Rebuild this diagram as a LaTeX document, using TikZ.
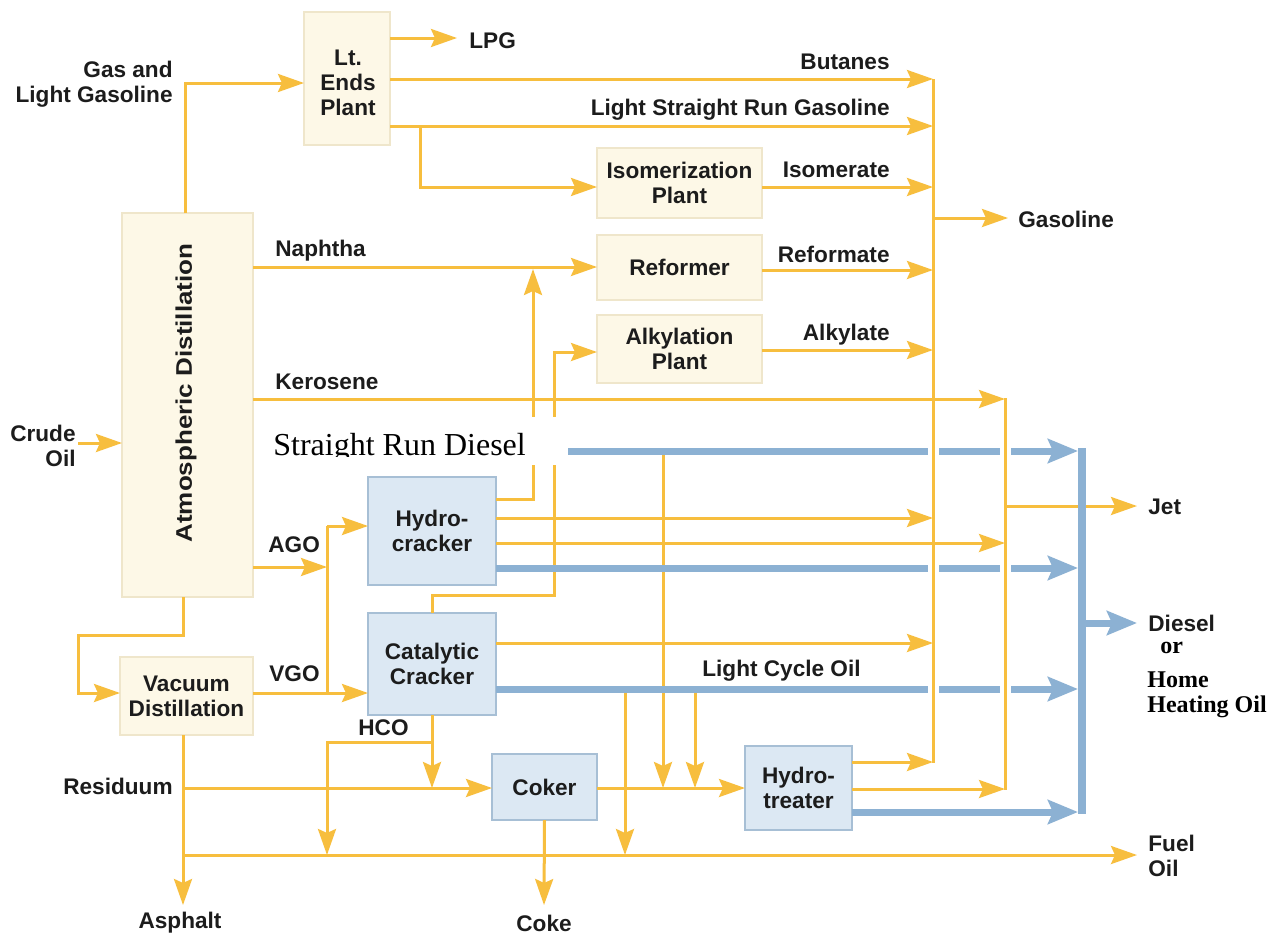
\documentclass[tikz,border=0pt]{standalone}
\usepackage{fontspec}
\setmainfont{Liberation Serif}
\setsansfont{Liberation Sans}
\usetikzlibrary{arrows.meta}
\definecolor{orng}{HTML}{F7BE3E}
\definecolor{blu}{HTML}{8CB1D3}
\definecolor{creamf}{HTML}{FDF8E7}
\definecolor{creamd}{HTML}{EFE6CB}
\definecolor{bluef}{HTML}{DCE8F3}
\definecolor{blued}{HTML}{A7BFD5}
\definecolor{txt}{HTML}{1C1C1C}
\newcommand{\lbfnt}{\sffamily\bfseries\fontsize{11.3}{12.4}\selectfont}
\tikzset{
  oline/.style={draw=orng, line width=1.5pt},
  oarr/.style={oline, -{Stealth[length=13pt,width=9pt,inset=2pt]}},
  bline/.style={draw=blu, line width=3.5pt},
  barr/.style={bline, -{Stealth[length=15pt,width=12pt,inset=2.5pt]}},
  cbox/.style={fill=creamf, draw=creamd, line width=0.6pt, inner sep=0pt, outer sep=0pt, align=center, font=\lbfnt, text=txt},
  bbox/.style={fill=bluef, draw=blued, line width=0.8pt, inner sep=0pt, outer sep=0pt, align=center, font=\lbfnt, text=txt},
  lbl/.style={font=\lbfnt, text=txt, inner sep=0pt},
  tlbl/.style={font=\rmfamily\bfseries\fontsize{12}{14}\selectfont, text=black, inner sep=0pt},
}
\begin{document}
\begin{tikzpicture}[x=0.5pt,y=-0.5pt]
\useasboundingbox[fill=white] (0,0) rectangle (1280,938);

% ---------- boxes ----------
\node[cbox, minimum width=43pt, minimum height=66.5pt] (ltends) at (347,78.5) {};
\node[lbl, align=center] (ltendslbl) at (348,83) {Lt.\\Ends\\Plant};
\node[cbox, minimum width=65.5pt, minimum height=192pt] (atmos) at (187.5,405) {};
\node[lbl, rotate=90] (atmoslbl) at (186,393) {\scalebox{1.15}[1]{Atmospheric Distillation}};
\node[cbox, minimum width=82.5pt, minimum height=35pt] (isom) at (679.5,183) {Isomerization\\Plant};
\node[cbox, minimum width=82.5pt, minimum height=32.5pt] (reformer) at (679.5,267.5) {Reformer};
\node[cbox, minimum width=82.5pt, minimum height=34pt] (alky) at (679.5,349) {Alkylation\\Plant};
\node[cbox, minimum width=66.5pt, minimum height=39pt] (vacuum) at (186.5,696) {Vacuum\\Distillation};
\node[bbox, minimum width=64pt, minimum height=54pt] (hydrocr) at (432,531) {Hydro-\\cracker};
\node[bbox, minimum width=64pt, minimum height=51pt] (catcr) at (432,664) {Catalytic\\Cracker};
\node[bbox, minimum width=52.5pt, minimum height=33pt] (coker) at (544.5,787) {Coker};
\node[bbox, minimum width=53.5pt, minimum height=42pt] (hydrotr) at (798.5,788) {Hydro-\\treater};

% ---------- collector coordinates ----------
\coordinate (gcol) at (933,0);
\coordinate (jcol) at (1005,0);
\coordinate (dcol) at (1082,0);
\coordinate (dcolL) at (1078,0);
\coordinate (fv) at (327,526);
\coordinate (lsrgbr) at (420,126);
\coordinate (lpgend) at (457,38);
\coordinate (gasend) at (1008,218);
\coordinate (jetend) at (1137,506);
\coordinate (dieselend) at (1137,623);
\coordinate (fuelend) at (1137,855);
\coordinate (crudest) at (78,443);
\coordinate (asphend) at (183,905);
\coordinate (cokeend) at (544,905);

% ---------- orange streams ----------
\draw[oarr] (atmos.north -| 185,0) |- (ltends.west |- 0,83);
\draw[oarr] (ltends.east |- 0,38) -- (lpgend);
\draw[oarr] (ltends.east |- 0,79) -- (gcol |- 0,79);
\draw[oarr] (ltends.east |- 0,126) -- (gcol |- 0,126);
\draw[oarr] (lsrgbr) |- (isom.west |- 0,187);
\draw[oarr] (isom.east |- 0,187) -- (gcol |- 0,187);
\draw[oarr] (atmos.east |- 0,267) -- (reformer.west |- 0,267);
\draw[oarr] (reformer.east |- 0,270) -- (gcol |- 0,270);
\draw[oarr] (alky.east |- 0,350) -- (gcol |- 0,350);
\draw[oarr] (gcol |- 0,218) -- (gasend);
\draw[oarr] (atmos.east |- 0,399) -- (jcol |- 0,399);
\draw[oarr] (jcol |- 0,506) -- (jetend);
\draw[oarr] (crudest) -- (atmos.west |- crudest);
\draw[oarr] (atmos.east |- 0,567) -- (fv |- 0,567);
\draw[oline] (fv) -- (fv |- 0,693);
\draw[oarr] (fv) -- (hydrocr.west |- fv);
\draw[oarr] (vacuum.east |- 0,693) -- (catcr.west |- 0,693);
\draw[oarr] (atmos.south -| 183,0) |- (78,635) |- (vacuum.west |- 0,693);
\draw[oarr] (hydrocr.east |- 0,499) -| (533,269);
\draw[oarr] (hydrocr.east |- 0,518) -- (gcol |- 0,518);
\draw[oarr] (hydrocr.east |- 0,543) -- (jcol |- 0,543);
\draw[oarr] (catcr.north) |- (554,595) |- (alky.west |- 0,352);
\draw[oarr] (catcr.east |- 0,643) -- (gcol |- 0,643);
\draw[oarr] (625,689) -- (625,855);
\draw[oarr] (695,689) -- (695,788);
\draw[oarr] (663,451) -- (663,788);
\draw[oarr] (catcr.south) -- (432,788);
\draw[oarr] (432,742) -| (327,855);
\draw[oarr] (vacuum.south -| 183,0) -- (asphend);
\draw[oarr] (183,788) -- (coker.west |- 0,788);
\draw[oarr] (183,855) -- (fuelend);
\draw[oarr] (coker.south) -- (cokeend);
\draw[oarr] (coker.east |- 0,788) -- (hydrotr.west |- 0,788);
\draw[oarr] (hydrotr.east |- 0,762) -- (gcol |- 0,762);
\draw[oarr] (hydrotr.east |- 0,789) -- (jcol |- 0,789);

% ---------- blue streams ----------
\draw[barr] (hydrocr.east |- 0,568) -- (dcolL |- 0,568);
\draw[barr] (catcr.east |- 0,689) -- (dcolL |- 0,689);
\draw[barr] (hydrotr.east |- 0,812) -- (dcolL |- 0,812);
\draw[barr] (568,451) -- (dcolL |- 0,451);
\draw[draw=blu, line width=4pt] (dcol |- 0,448) -- (dcol |- 0,814);
\draw[barr] (dcol |- 0,623) -- (dieselend);

% gaps where orange collectors cross blue lines
\foreach \yy in {451,568,689}{
  \foreach \xx in {933,1005}{
    \fill[white] (\xx-5.5,\yy-5) rectangle (\xx+5.5,\yy+5);
  }
}
\draw[oline] (gcol |- 0,79) -- (gcol |- 0,763);
\draw[oline] (jcol |- 0,398) -- (jcol |- 0,790);

% ---------- white pasted box ----------
\node[fill=white, minimum width=157pt, minimum height=24pt, inner sep=0pt] (srdbox) at (411,441) {};
\begin{scope}
\clip (254,417) rectangle (568,456);
\node[anchor=base west, font=\rmfamily\fontsize{16}{18}\selectfont, inner sep=0pt] (srd) at (273,455) {Straight Run Diesel};
\end{scope}

% ---------- labels ----------
\node[lbl, anchor=east, align=right] (gaslbl) at (173,84) {Gas and\\Light Gasoline};
\node[lbl, anchor=west] (lpg) at (469,41) {LPG};
\node[lbl, anchor=east] (butl) at (890,62) {Butanes};
\node[lbl, anchor=east] (lsrgl) at (890,110) {Light Straight Run Gasoline};
\node[lbl, anchor=east] (isoml) at (890,170) {Isomerate};
\node[lbl, anchor=east] (refl) at (890,254) {Reformate};
\node[lbl, anchor=east] (alkl) at (890,335) {Alkylate};
\node[lbl, anchor=west] (gasl) at (1018,219) {Gasoline};
\node[lbl, anchor=west] (naphl) at (275,251) {Naphtha};
\node[lbl, anchor=west] (kerol) at (275,382) {Kerosene};
\node[lbl, anchor=east, align=right] (crudel) at (76,446) {Crude\\Oil};
\node[lbl, anchor=west] (agol) at (268,545) {AGO};
\node[lbl, anchor=west] (vgol) at (269,674) {VGO};
\node[lbl, anchor=west] (hcol) at (358,728) {HCO};
\node[lbl, anchor=east] (resl) at (173,786) {Residuum};
\node[lbl] (asphl) at (180,923) {Asphalt};
\node[lbl] (cokel) at (544,923) {Coke};
\node[lbl, anchor=west] (lcol) at (702,671) {Light Cycle Oil};
\node[lbl, anchor=west] (jetl) at (1148,507) {Jet};
\node[lbl, anchor=west] (diesl) at (1148,623) {Diesel};
\node[tlbl, anchor=west] (orl) at (1160,648) {or};
\node[tlbl, anchor=west] (homel) at (1147,680) {Home};
\node[tlbl, anchor=west] (heatl) at (1147,707) {Heating Oil};
\node[lbl, anchor=west, align=left] (fuell) at (1148,856) {Fuel\\Oil};
\end{tikzpicture}
\end{document}
